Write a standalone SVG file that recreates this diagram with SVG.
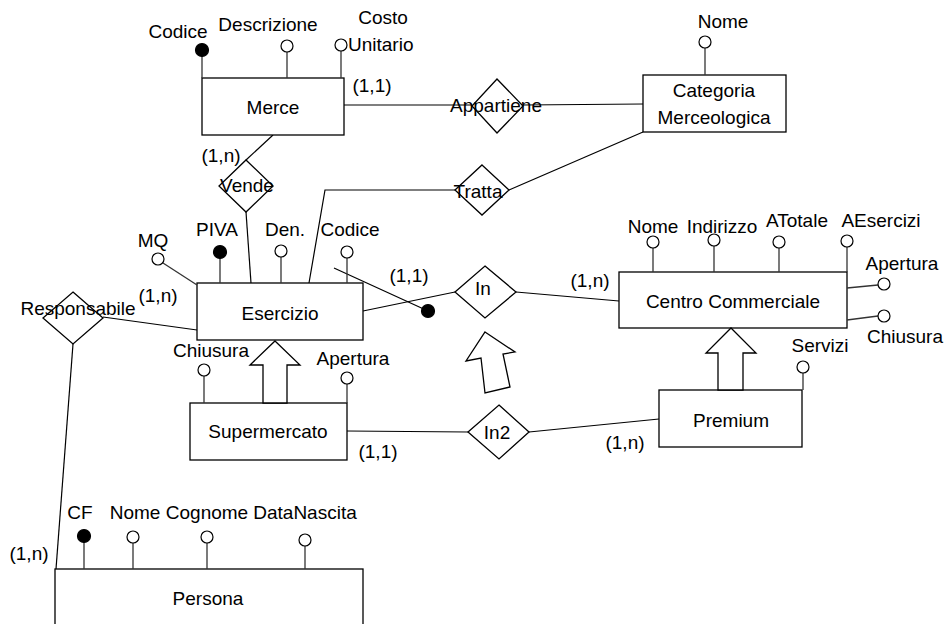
<svg xmlns="http://www.w3.org/2000/svg" width="950" height="624" viewBox="0 0 950 624">
<style>
text{font-family:"Liberation Sans",Arial,sans-serif;font-size:19px;fill:#000;text-anchor:middle}
.e{fill:#fff;stroke:#000;stroke-width:1.3}
.r{fill:#fff;stroke:#000;stroke-width:1.3}
.c{fill:none;stroke:#000;stroke-width:1.2}
.a{stroke:#333;stroke-width:1.3;fill:none}
.o{fill:#fff;stroke:#000;stroke-width:1.2}
.k{fill:#000;stroke:#000;stroke-width:1.2}
.g{fill:#fff;stroke:#000;stroke-width:1.3}
</style>
<rect width="950" height="624" fill="#fff"/>
<g id="connectors">
<line class="c" x1="344" y1="105" x2="472" y2="105"/>
<line class="c" x1="523" y1="105" x2="643" y2="104"/>
<line class="c" x1="273" y1="135" x2="246" y2="160"/>
<line class="c" x1="246" y1="212" x2="251" y2="283"/>
<line class="c" x1="643" y1="132" x2="509" y2="190"/>
<polyline class="c" points="455,190 325,190 309,283"/>
<line class="c" x1="363" y1="311" x2="455" y2="292"/>
<line class="c" x1="516" y1="292" x2="619" y2="301"/>
<line class="c" x1="347" y1="431" x2="468" y2="432"/>
<line class="c" x1="529" y1="432" x2="659" y2="419"/>
<line class="c" x1="103" y1="317" x2="197" y2="330"/>
<line class="c" x1="73" y1="344" x2="56" y2="569"/>
<line class="c" x1="334" y1="268" x2="428" y2="311"/>
<circle class="k" cx="428" cy="311" r="6.5"/>
</g>
<g id="Merce">
<rect class="e" x="202" y="78" width="142" height="57"/>
<text x="273" y="114">Merce</text>
<line class="a" x1="202" y1="56" x2="202" y2="78"/><circle class="k" cx="202" cy="50" r="6.5"/><text x="178" y="38">Codice</text>
<line class="a" x1="287" y1="52" x2="287" y2="78"/><circle class="o" cx="287" cy="46" r="6"/><text x="268" y="31">Descrizione</text>
<line class="a" x1="341" y1="51" x2="341" y2="78"/><circle class="o" cx="341" cy="45" r="6"/><text x="383" y="24">Costo</text><text x="348" y="51" style="text-anchor:start">Unitario</text>
<text x="372" y="92">(1,1)</text>
<text x="221" y="162">(1,n)</text>
</g>
<g id="Appartiene">
<polygon class="r" points="497,79 523,106 497,133 472,106"/>
<text x="496" y="112">Appartiene</text>
</g>
<g id="Categoria">
<rect class="e" x="643" y="75" width="143" height="57"/>
<text x="714" y="97">Categoria</text>
<text x="714" y="124">Merceologica</text>
<line class="a" x1="705" y1="48" x2="705" y2="75"/><circle class="o" cx="705" cy="42" r="6"/><text x="723" y="28">Nome</text>
</g>
<g id="Vende">
<polygon class="r" points="246,160 273,186 246,212 219,186"/>
<text x="247" y="192">Vende</text>
</g>
<g id="Tratta">
<polygon class="r" points="482,165 509,190 482,215 455,190"/>
<text x="478" y="198">Tratta</text>
</g>
<g id="Esercizio">
<rect class="e" x="197" y="283" width="166" height="57"/>
<text x="280" y="320">Esercizio</text>
<line class="a" x1="163" y1="263" x2="197" y2="285"/><circle class="o" cx="158" cy="259" r="6"/><text x="153" y="247">MQ</text>
<line class="a" x1="220" y1="258" x2="220" y2="283"/><circle class="k" cx="220" cy="252" r="6.5"/><text x="217" y="236">PIVA</text>
<line class="a" x1="281" y1="257" x2="281" y2="283"/><circle class="o" cx="281" cy="251" r="6"/><text x="285" y="236">Den.</text>
<line class="a" x1="347" y1="258" x2="347" y2="283"/><circle class="o" cx="347" cy="252" r="6"/><text x="350" y="236">Codice</text>
<text x="409" y="282">(1,1)</text>
<text x="158" y="302">(1,n)</text>
</g>
<g id="Responsabile">
<polygon class="r" points="73,292 103,318 73,344 43,318"/>
<text x="78" y="315">Responsabile</text>
</g>
<g id="In">
<polygon class="r" points="485,266 516,292 485,318 455,292"/>
<text x="483" y="295">In</text>
<text x="590" y="287">(1,n)</text>
</g>
<g id="CentroCommerciale">
<rect class="e" x="619" y="272" width="228" height="56"/>
<text x="733" y="308">Centro Commerciale</text>
<line class="a" x1="653" y1="248" x2="653" y2="272"/><circle class="o" cx="653" cy="242" r="6"/><text x="653" y="233">Nome</text>
<line class="a" x1="714" y1="246" x2="714" y2="272"/><circle class="o" cx="714" cy="240" r="6"/><text x="722" y="233">Indirizzo</text>
<line class="a" x1="779" y1="248" x2="779" y2="272"/><circle class="o" cx="779" cy="242" r="6"/><text x="797" y="227">ATotale</text>
<line class="a" x1="847" y1="247" x2="847" y2="272"/><circle class="o" cx="847" cy="241" r="6"/><text x="881" y="227">AEsercizi</text>
<line class="a" x1="847" y1="288" x2="878" y2="285"/><circle class="o" cx="884" cy="284" r="6"/><text x="902" y="270">Apertura</text>
<line class="a" x1="847" y1="320" x2="878" y2="316"/><circle class="o" cx="884" cy="316" r="6"/><text x="905" y="343">Chiusura</text>
</g>
<g id="Supermercato">
<rect class="e" x="190" y="403" width="157" height="57"/>
<text x="268" y="438">Supermercato</text>
<line class="a" x1="204" y1="376" x2="204" y2="403"/><circle class="o" cx="204" cy="370" r="6"/><text x="211" y="357">Chiusura</text>
<line class="a" x1="347" y1="384" x2="347" y2="403"/><circle class="o" cx="347" cy="378" r="6"/><text x="353" y="365">Apertura</text>
<text x="378" y="458">(1,1)</text>
<polygon class="g" points="275,341 300,365 287,365 287,403 263,403 263,365 250,365"/>
</g>
<g id="In2">
<polygon class="r" points="499,405 529,432 499,459 468,432"/>
<text x="497" y="439">In2</text>
<text x="625" y="449">(1,n)</text>
</g>
<g id="Premium">
<rect class="e" x="659" y="390" width="143" height="57"/>
<text x="731" y="427">Premium</text>
<line class="a" x1="803" y1="373" x2="803" y2="390"/><circle class="o" cx="803" cy="367" r="6"/><text x="820" y="352">Servizi</text>
<polygon class="g" points="731,328 756,353 743,353 743,390 718,390 718,353 706,353"/>
</g>
<g id="ArrowIn">
<polygon class="g" points="485,332 515,352 503,354 510,387 485,393 481,358 466,361"/>
</g>
<g id="Persona">
<rect class="e" x="55" y="569" width="308" height="62"/>
<text x="208" y="605">Persona</text>
<line class="a" x1="84" y1="542" x2="84" y2="569"/><circle class="k" cx="84" cy="536" r="6.5"/><text x="80" y="519">CF</text>
<line class="a" x1="133" y1="543" x2="133" y2="569"/><circle class="o" cx="133" cy="537" r="6"/><text x="135" y="519">Nome</text>
<line class="a" x1="207" y1="543" x2="207" y2="569"/><circle class="o" cx="207" cy="537" r="6"/><text x="207" y="519">Cognome</text>
<line class="a" x1="305" y1="546" x2="305" y2="569"/><circle class="o" cx="305" cy="540" r="6"/><text x="305" y="519">DataNascita</text>
<text x="29" y="560">(1,n)</text>
</g>
</svg>
